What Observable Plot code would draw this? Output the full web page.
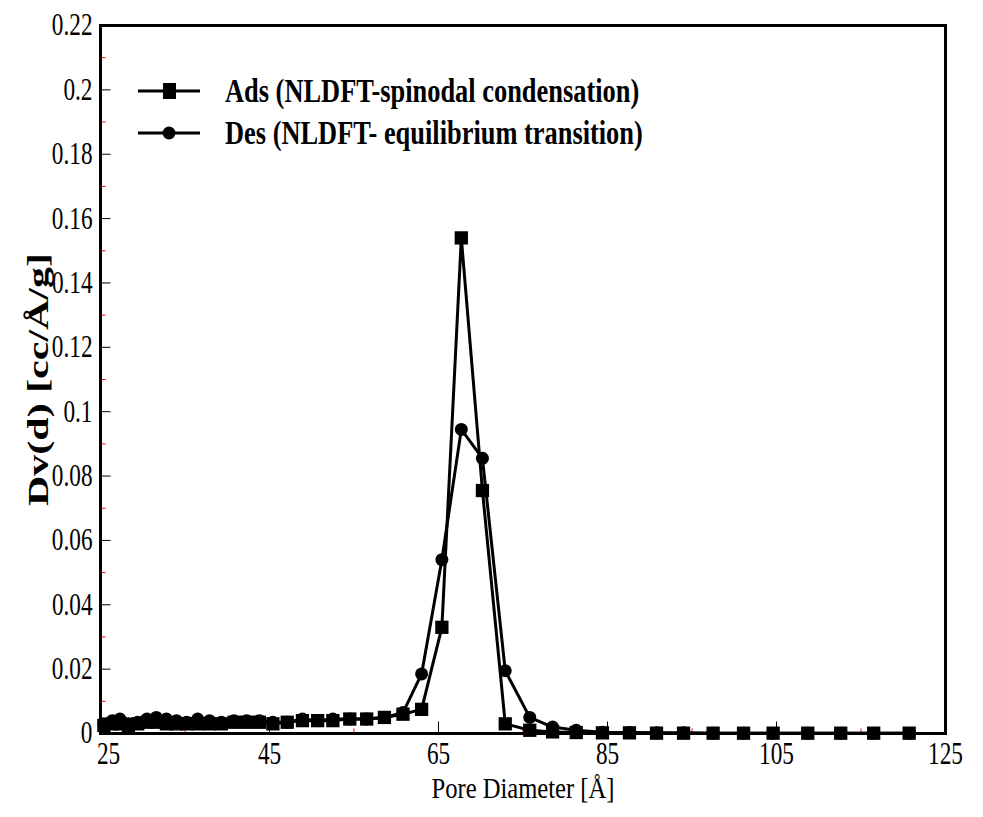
<!DOCTYPE html>
<html><head><meta charset="utf-8">
<script src="https://cdn.jsdelivr.net/npm/d3@7"></script>
<script src="https://cdn.jsdelivr.net/npm/@observablehq/plot@0.6"></script>
<style>
body{margin:0;background:#fff;}
#wrap{position:relative;width:983px;height:817px;font-family:"Liberation Serif",serif;}
#legend{position:absolute;left:138px;top:70px;}
.row{display:flex;align-items:center;height:42px;}
.row span{font:bold 33px "Liberation Serif",serif;margin-left:25px;display:inline-block;transform:scaleX(0.8);transform-origin:left center;white-space:nowrap;}
</style>
</head><body><div id="wrap"><div id="chart"></div><div id="legend"></div></div>
<script>
const poreDiameter = [25.4,26.4,27.3,28.3,29.4,30.5,31.6,32.8,34.0,35.2,36.5,37.9,39.3,40.8,42.3,43.8,45.4,47.1,48.9,50.7,52.5,54.5,56.5,58.6,60.8,63.0,65.4,67.7,70.2,72.9,75.8,78.5,81.3,84.4,87.6,90.8,94.0,97.5,101.1,104.6,108.7,112.6,116.5,120.7];
const adsValues = [0.0025,0.003,0.003,0.0025,0.003,0.0035,0.0035,0.003,0.003,0.003,0.003,0.003,0.003,0.0035,0.0035,0.0035,0.003,0.0035,0.004,0.004,0.004,0.0045,0.0045,0.005,0.006,0.0075,0.033,0.154,0.0755,0.003,0.001,0.0005,0.0003,0.0002,0.0002,0.0001,0.0001,0.0001,0.0001,0.0001,0.0001,0.0001,0.0001,0.0001];
const desValues = [0.003,0.004,0.0045,0.003,0.0035,0.0045,0.005,0.0045,0.004,0.0035,0.0045,0.004,0.0035,0.004,0.004,0.004,0.0035,0.0035,0.0045,0.004,0.0045,0.0045,0.0045,0.005,0.0065,0.0185,0.054,0.0945,0.0855,0.0195,0.005,0.002,0.001,0.0004,0.0003,0.0002,0.0002,0.0001,0.0001,0.0001,0.0001,0.0001,0.0001,0.0001];
const seriesNames = ["Ads (NLDFT-spinodal condensation)", "Des (NLDFT- equilibrium transition)"];
const xTicks = [25,45,65,85,105,125];
const xInnerTicks = [45,65,85,105];
const xMinorTicks = [35,55,75,95,115];
const yTicks = [0,0.02,0.04,0.06,0.08,0.1,0.12,0.14,0.16,0.18,0.2,0.22];
const yInnerTicks = [0.02,0.04,0.06,0.08,0.1,0.12,0.14,0.16,0.18,0.2];
const yMinorTicks = [0.01,0.03,0.05,0.07,0.09,0.11,0.13,0.15,0.17,0.19,0.21];
const xLabel = "Pore Diameter [Å]";
const yLabel = "Dv(d) [cc/Å/g]";

const ads = poreDiameter.map((d, i) => ({d, v: adsValues[i]}));
const des = poreDiameter.map((d, i) => ({d, v: desValues[i]}));

const tickUp = len => ({draw(ctx){ctx.moveTo(0,0); ctx.lineTo(0,-len);}});
const tickRight = len => ({draw(ctx){ctx.moveTo(0,0); ctx.lineTo(len,0);}});

const plot = Plot.plot({
  width: 983, height: 817,
  marginLeft: 100, marginRight: 38, marginTop: 25, marginBottom: 84,
  style: {fontFamily: '"Liberation Serif", serif', background: "#fff", color: "#000"},
  x: {domain: [25,125]},
  y: {domain: [0,0.22]},
  marks: [
    Plot.axisX({ticks: xTicks, tickSize: 0, tickPadding: 8, fontSize: 31, tickFormat: d => String(d),
      label: xLabel, labelAnchor: "center", labelOffset: 64}),
    Plot.axisY({ticks: yTicks, tickSize: 0, tickPadding: 8, fontSize: 31, tickFormat: d => String(d),
      label: yLabel, labelAnchor: "center", labelOffset: 78}),
    Plot.dot(yInnerTicks, {y: d => d, frameAnchor: "left", symbol: tickRight(10), stroke: "#000", strokeWidth: 1, fill: "none"}),
    Plot.dot(yMinorTicks, {y: d => d, frameAnchor: "left", symbol: tickRight(5), stroke: "#f00", strokeWidth: 1, fill: "none"}),
    Plot.dot(xInnerTicks, {x: d => d, frameAnchor: "bottom", symbol: tickUp(12), stroke: "#000", strokeWidth: 1, fill: "none"}),
    Plot.dot(xMinorTicks, {x: d => d, frameAnchor: "bottom", symbol: tickUp(5), stroke: "#f00", strokeWidth: 1, fill: "none"}),
    Plot.line(ads, {x: "d", y: "v", stroke: "#000", strokeWidth: 3}),
    Plot.line(des, {x: "d", y: "v", stroke: "#000", strokeWidth: 3}),
    Plot.dot(des, {x: "d", y: "v", symbol: "circle", r: 6.5, fill: "#000", stroke: "none"}),
    Plot.dot(ads, {x: "d", y: "v", symbol: "square", r: 7.5, fill: "#000", stroke: "none"}),
    Plot.frame({stroke: "#000", strokeWidth: 3})
  ]
});
document.getElementById("chart").appendChild(plot);

// Compress serif text horizontally as in the reference; remove Plot's label arrows
plot.querySelectorAll("text").forEach(t => {
  const grp = t.closest("g[aria-label]");
  const lab = grp ? grp.getAttribute("aria-label") : "";
  let k = 0.75;
  if (lab.includes("y-axis label")) { k = 0.72; t.textContent = yLabel; t.style.fontWeight = "bold"; t.style.fontSize = "42px"; }
  else if (lab.includes("x-axis label")) { k = 0.82; t.textContent = xLabel; t.style.fontSize = "30px"; }
  else if (lab.includes("x-axis tick label") && t.textContent === "25") { t.setAttribute("dx", "8"); }
  const anchor = getComputedStyle(t).textAnchor;
  const origin = anchor === "end" ? "right" : anchor === "start" ? "left" : "center";
  const g = document.createElementNS("http://www.w3.org/2000/svg", "g");
  g.style.transformBox = "fill-box";
  g.style.transformOrigin = origin + " center";
  g.style.transform = `scaleX(${k})`;
  t.parentNode.insertBefore(g, t);
  g.appendChild(t);
});

// Legend
const legend = document.getElementById("legend");
seriesNames.forEach((name, i) => {
  const row = document.createElement("div");
  row.className = "row";
  const marker = i === 0
    ? '<rect x="25" y="2" width="13" height="16" fill="#000"/>'
    : '<circle cx="31" cy="10" r="6.5" fill="#000"/>';
  row.innerHTML = `<svg width="62" height="20"><line x1="0" x2="62" y1="10" y2="10" stroke="#000" stroke-width="3"/>${marker}</svg><span>${name}</span>`;
  legend.appendChild(row);
});
</script>
</body></html>
